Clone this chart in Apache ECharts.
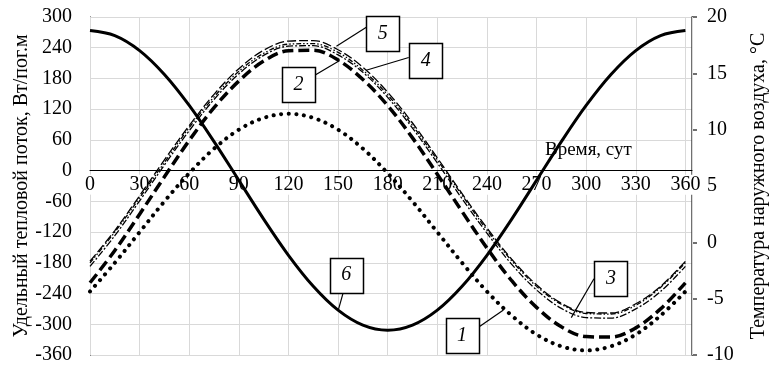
<!DOCTYPE html>
<html>
<head>
<meta charset="utf-8">
<script src="https://cdn.jsdelivr.net/npm/echarts@6/dist/echarts.min.js"></script>
<style>
  html, body { margin: 0; padding: 0; background: #fff; }
  #chart { width: 773px; height: 366px; }
</style>
</head>
<body>
<div id="chart"></div>
<script>
// Day of year, sampled every 15 days
const days = [0, 15, 30, 45, 60, 75, 90, 105, 120, 135, 150, 165, 180,
              195, 210, 225, 240, 255, 270, 285, 300, 315, 330, 345, 360];

// Specific heat flux, W per running metre (left axis)
const flux1 = [-236, -180, -120, -60, -5, 43, 80, 103, 111, 103, 80, 43, -5,
               -60, -120, -180, -236, -283, -320, -343, -351, -343, -320, -283, -236];
const flux2 = [-219, -156, -85, -12, 59, 123, 175, 214, 234, 235, 216, 178, 127,
               64, -7, -80, -151, -215, -267, -305, -324, -325, -307, -270, -219];
const flux3 = [-187, -127, -59, 11, 78, 139, 189, 225, 243, 244, 226, 192, 143,
               83, 15, -55, -122, -183, -233, -269, -287, -288, -270, -236, -187];
const flux4 = [-180, -120, -53, 16, 84, 144, 194, 229, 247, 248, 231, 196, 148,
               88, 21, -48, -116, -176, -226, -261, -279, -280, -263, -228, -180];
const flux5 = [-177, -117, -49, 21, 88, 149, 199, 235, 253, 254, 236, 202, 153,
               93, 25, -45, -112, -173, -223, -259, -277, -278, -260, -226, -177];

// Outdoor air temperature, °C (right axis)
const temperature = [18.8, 18.35, 17.02, 14.9, 12.15, 8.94, 5.5, 2.06, -1.15, -3.9, -6.02, -7.35, -7.8,
                     -7.35, -6.02, -3.9, -1.15, 2.06, 5.5, 8.94, 12.15, 14.9, 17.02, 18.35, 18.8];

// Axis ranges and tick steps
const dayRange = [0, 364], dayStep = 30;
const fluxRange = [-360, 300], fluxStep = 60;
const tempRange = [-10, 20], tempStep = 5;

// Curve numbers: box centre and leader target in (day, flux) coordinates
const notes = [
  { text: '5', box: [177, 267],  from: [-16, -7], to: [149, 243] },
  { text: '4', box: [203, 215],  from: [-17, -3], to: [167, 196] },
  { text: '2', box: [126, 168],  from: [16, -9],  to: [151, 215] },
  { text: '3', box: [315, -211], from: [-17, 0],  to: [291, -287] },
  { text: '1', box: [225, -322], from: [16, -8],  to: [250, -272] },
  { text: '6', box: [155, -204], from: [-3, 17],  to: [150, -274] }
];

const FONT = "'Liberation Serif', 'Times New Roman', serif";
const GRID = { left: 90, right: 81, top: 17, bottom: 11 };
const pairs = arr => days.map((d, i) => [d, arr[i]]);

const chart = echarts.init(document.getElementById('chart'), null, { renderer: 'canvas' });

function line(data, yIdx, style) {
  return {
    type: 'line', data: pairs(data), yAxisIndex: yIdx,
    showSymbol: false, symbol: 'none', smooth: 0.35, animation: false,
    lineStyle: Object.assign({ color: '#000' }, style)
  };
}

chart.setOption({
  animation: false,
  backgroundColor: '#fff',
  grid: Object.assign({ containLabel: false, outerBoundsMode: 'none' }, GRID),
  xAxis: {
    type: 'value', position: 'bottom', min: dayRange[0], max: dayRange[1], interval: dayStep, z: 1,
    axisLine: { onZero: false, lineStyle: { color: '#000', width: 1 } },
    axisTick: { show: false },
    axisLabel: {
      showMaxLabel: false, margin: 4, color: '#000', fontSize: 20, fontFamily: FONT,
      backgroundColor: '#fff', padding: [0, 2],
      formatter: v => (v % dayStep === 0 ? String(v) : '')
    },
    splitLine: { show: true, lineStyle: { color: '#d9d9d9', width: 1 } }
  },
  yAxis: [
    {
      type: 'value', position: 'left', min: fluxRange[0], max: fluxRange[1], interval: fluxStep,
      axisLine: { show: true, onZero: false, lineStyle: { color: '#000', width: 1 } },
      axisTick: { show: false },
      axisLabel: { margin: 18, color: '#000', fontSize: 20, fontFamily: FONT },
      splitLine: { show: true, lineStyle: { color: '#d9d9d9', width: 1 } },
      name: 'Удельный тепловой поток, Вт/пог.м', nameLocation: 'middle', nameGap: 58, nameRotate: 90,
      nameMoveOverlap: false,
      nameTextStyle: { color: '#000', fontSize: 20, fontFamily: FONT }
    },
    {
      type: 'value', position: 'right', min: tempRange[0], max: tempRange[1], interval: tempStep,
      axisLine: { show: true, onZero: false, lineStyle: { color: '#404040', width: 1.5 } },
      axisTick: { show: true, inside: false, length: 5, lineStyle: { color: '#404040', width: 1.5 } },
      axisLabel: { margin: 15, color: '#000', fontSize: 20, fontFamily: FONT },
      splitLine: { show: false },
      name: 'Температура наружного воздуха, °С', nameLocation: 'middle', nameGap: 57, nameRotate: 90,
      nameTextStyle: { color: '#000', fontSize: 20, fontFamily: FONT }
    }
  ],
  series: [
    line(flux1, 0, { width: 4, type: [0.1, 7.5], cap: 'round' }),
    line(flux2, 0, { width: 3.5, type: [11, 5] }),
    line(flux3, 0, { width: 1.3, type: [7, 2, 2, 2] }),
    line(flux4, 0, { width: 1.3, type: [5, 2, 1.5, 2, 1.5, 2] }),
    line(flux5, 0, { width: 1.3, type: [9, 3] }),
    line(temperature, 1, { width: 3 })
  ]
});

// Lift the day axis so it runs along zero heat flux
const zeroY = chart.convertToPixel({ yAxisIndex: 0 }, 0);
const gridBottomY = chart.getHeight() - GRID.bottom;
chart.setOption({ xAxis: { offset: -(gridBottomY - zeroY) } });

// Numbered boxes with leader lines, placed through the grid's coordinate system
const toPx = p => chart.convertToPixel({ gridIndex: 0 }, p);
const graphics = [{
  type: 'text', z: 50, left: 545, top: 141,
  style: { text: 'Время, сут', fill: '#000', fontSize: 19, fontFamily: FONT }
}];
notes.forEach(n => {
  const c = toPx(n.box);
  const t = toPx(n.to);
  graphics.push({
    type: 'line', z: 60,
    shape: { x1: c[0] + n.from[0], y1: c[1] + n.from[1], x2: t[0], y2: t[1] },
    style: { stroke: '#000', lineWidth: 1.2 }
  });
  graphics.push({
    type: 'rect', z: 61,
    shape: { x: Math.round(c[0] - 16.5) + 0.5, y: Math.round(c[1] - 17.5) + 0.5, width: 33, height: 35 },
    style: { fill: '#fff', stroke: '#000', lineWidth: 1.5 }
  });
  graphics.push({
    type: 'text', z: 62,
    style: {
      text: n.text, x: c[0], y: c[1], align: 'center', verticalAlign: 'middle',
      fill: '#000', fontSize: 20, fontStyle: 'italic', fontFamily: FONT
    }
  });
});
chart.setOption({ graphic: graphics });
</script>
</body>
</html>
